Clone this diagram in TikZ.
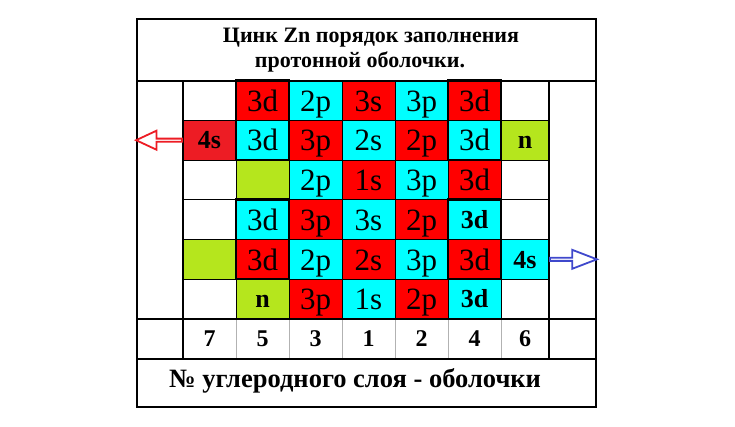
\documentclass[tikz,border=0pt]{standalone}
\usepackage{fontspec}
\setmainfont{Liberation Serif}
\usetikzlibrary{positioning,shapes.arrows}
\definecolor{cellred}{HTML}{FF0000}
\definecolor{paintred}{HTML}{ED1C24}
\definecolor{cellcyan}{HTML}{00FFFF}
\definecolor{celllime}{HTML}{B5E61D}
\definecolor{arrowblue}{HTML}{3F48CC}
\tikzset{
  cell/.style={draw=black, line width=0.8pt, inner sep=0pt, outer sep=0pt,
    minimum width=53pt, minimum height=39.7pt, text height=21.5pt, text depth=0pt,
    font=\fontsize{31}{31}\selectfont},
  redcell/.style={cell, fill=cellred},
  cyancell/.style={cell, fill=cellcyan},
  limecell/.style={cell, fill=celllime},
  blankcell/.style={cell, fill=white},
  narrow/.style={minimum width=48pt},
  boldtext/.style={font=\bfseries\fontsize{26}{26}\selectfont, text height=17.5pt},
  numcell/.style={cell, draw=gray!60, minimum height=40pt, text height=16pt,
    font=\bfseries\fontsize{24}{24}\selectfont},
  heavy/.style={draw=black, line width=2.6pt},
  headline/.style={font=\bfseries\fontsize{22}{22}\selectfont},
  hollowarrow/.style={single arrow, fill=white, line width=1.8pt, inner sep=0pt,
    minimum width=19pt, single arrow head extend=4.5pt}
}
\begin{document}
\begin{tikzpicture}[x=1pt, y=-1pt]
   \useasboundingbox (0,0) rectangle (735,426);
   \fill[white] (0,0) rectangle (735,426);
   % row a
   \node (a7) [blankcell] at (209.5,100.5) {};
   \node (a5) [redcell, right=0pt of a7]  {3d};
   \node (a3) [cyancell, right=0pt of a5] {2p};
   \node (a1) [redcell, right=0pt of a3]  {3s};
   \node (a2) [cyancell, right=0pt of a1] {3p};
   \node (a4) [redcell, right=0pt of a2]  {3d};
   \node (a6) [blankcell, narrow, right=0pt of a4] {};
   % row b
   \node (b7) [cell, fill=paintred, boldtext, below=0pt of a7] {4s};
   \node (b5) [cyancell, right=0pt of b7] {3d};
   \node (b3) [redcell, right=0pt of b5]  {3p};
   \node (b1) [cyancell, right=0pt of b3] {2s};
   \node (b2) [redcell, right=0pt of b1]  {2p};
   \node (b4) [cyancell, right=0pt of b2] {3d};
   \node (b6) [limecell, narrow, boldtext, right=0pt of b4] {n};
   % row c
   \node (c7) [blankcell, below=0pt of b7] {};
   \node (c5) [limecell, right=0pt of c7] {};
   \node (c3) [cyancell, right=0pt of c5] {2p};
   \node (c1) [redcell, right=0pt of c3]  {1s};
   \node (c2) [cyancell, right=0pt of c1] {3p};
   \node (c4) [redcell, right=0pt of c2]  {3d};
   \node (c6) [blankcell, narrow, right=0pt of c4] {};
   % row d
   \node (d7) [blankcell, below=0pt of c7] {};
   \node (d5) [cyancell, right=0pt of d7] {3d};
   \node (d3) [redcell, right=0pt of d5]  {3p};
   \node (d1) [cyancell, right=0pt of d3] {3s};
   \node (d2) [redcell, right=0pt of d1]  {2p};
   \node (d4) [cyancell, boldtext, right=0pt of d2] {3d};
   \node (d6) [blankcell, narrow, right=0pt of d4] {};
   % row e
   \node (e7) [limecell, below=0pt of d7] {};
   \node (e5) [redcell, right=0pt of e7]  {3d};
   \node (e3) [cyancell, right=0pt of e5] {2p};
   \node (e1) [redcell, right=0pt of e3]  {2s};
   \node (e2) [cyancell, right=0pt of e1] {3p};
   \node (e4) [redcell, right=0pt of e2]  {3d};
   \node (e6) [cyancell, narrow, boldtext, right=0pt of e4] {4s};
   % row f
   \node (f7) [blankcell, below=0pt of e7] {};
   \node (f5) [limecell, boldtext, right=0pt of f7] {n};
   \node (f3) [redcell, right=0pt of f5]  {3p};
   \node (f1) [cyancell, right=0pt of f3] {1s};
   \node (f2) [redcell, right=0pt of f1]  {2p};
   \node (f4) [cyancell, boldtext, right=0pt of f2] {3d};
   \node (f6) [blankcell, narrow, right=0pt of f4] {};
   % layer numbers
   \node (g7) [numcell, below=0pt of f7] {7};
   \node (g5) [numcell, right=0pt of g7] {5};
   \node (g3) [numcell, right=0pt of g5] {3};
   \node (g1) [numcell, right=0pt of g3] {1};
   \node (g2) [numcell, right=0pt of g1] {2};
   \node (g4) [numcell, right=0pt of g2] {4};
   \node (g6) [numcell, narrow, right=0pt of g4] {6};
   % heavy frames round the 3d pairs
   \draw[heavy] (a5.north west) rectangle (b5.south east);
   \draw[heavy] (d5.north west) rectangle (e5.south east);
   \draw[heavy] (a4.north west) rectangle (b4.south east);
   \draw[heavy] (d4.north west) rectangle (e4.south east);
   % table frame
   \draw[line width=1.4pt] (137,19) rectangle (596,407);
   \draw[line width=1.2pt] (137,81) -- (596,81);
   \draw[line width=1.2pt] (137,319) -- (596,319);
   \draw[line width=1.2pt] (137,359) -- (596,359);
   \draw[line width=1.2pt] (a7.north west) -- (g7.south west);
   \draw[line width=1.2pt] (a6.north east) -- (g6.south east);
   % texts
   \node (title) [headline] at (371,38) {Цинк Zn порядок заполнения};
   \node (subtitle) [headline] at (360,62) {протонной оболочки.};
   \node (caption) [font=\bfseries\fontsize{26.5}{26.5}\selectfont] at (355,381)
      {№ углеродного слоя - оболочки};
   % outgoing 4s arrows
   \node (leftout) [hollowarrow, draw=paintred, shape border rotate=180, minimum height=46pt,
      single arrow tip angle=50, anchor=tail] at (b7.west) {};
   \node (rightout) [hollowarrow, draw=arrowblue, minimum height=47pt,
      single arrow tip angle=42, anchor=tail] at (e6.east) {};
 \end{tikzpicture}
\end{document}
